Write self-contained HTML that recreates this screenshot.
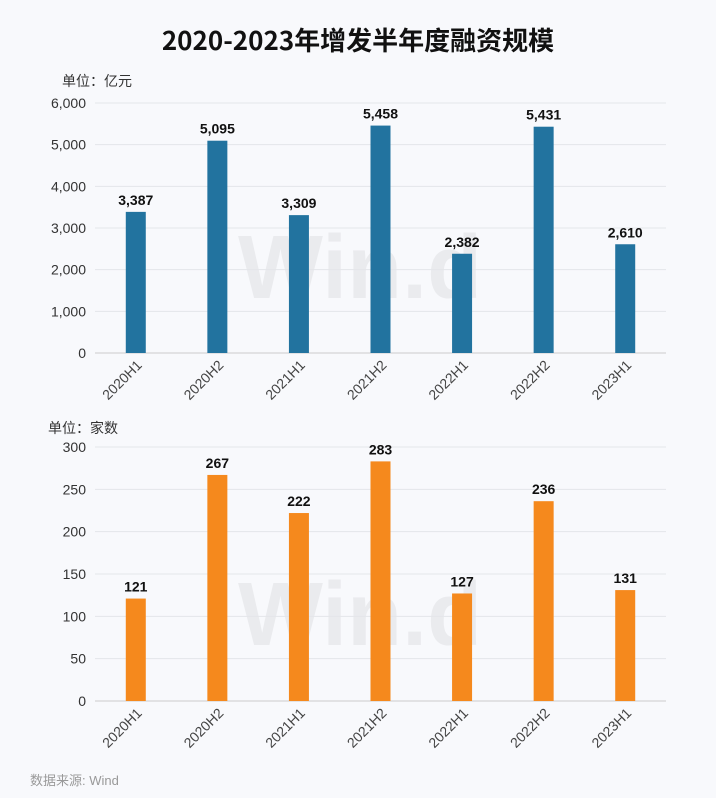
<!DOCTYPE html>
<html><head><meta charset="utf-8"><style>
body{margin:0;background:#f8f9fc;}
svg{display:block;font-family:"Liberation Sans","Noto Sans CJK SC",sans-serif;}
</style></head><body>
<svg id="c" width="716" height="798" viewBox="0 0 716 798">
<rect width="716" height="798" fill="#f8f9fc"/>
<text x="358" y="50" text-anchor="middle" font-size="26" font-weight="bold" fill="#111" style="font-family:'Noto Sans CJK SC',sans-serif">2020-2023年增发半年度融资规模</text>
<text x="62" y="86" font-size="14" fill="#333">单位：亿元</text>
<text x="48" y="433" font-size="14" fill="#333">单位：家数</text>
<text x="360" y="298" text-anchor="middle" font-size="90" font-weight="bold" fill="#000" opacity="0.05">Win.d</text>
<text x="360" y="645" text-anchor="middle" font-size="90" font-weight="bold" fill="#000" opacity="0.05">Win.d</text>
<text x="30" y="785" font-size="13" fill="#999">数据来源: Wind</text>
</svg>
<script>
const categories=["2020H1","2020H2","2021H1","2021H2","2022H1","2022H2","2023H1"];
const amountValues=[3387,5095,3309,5458,2382,5431,2610];
const countValues=[121,267,222,283,127,236,131];
const amountTicks=[0,1000,2000,3000,4000,5000,6000];
const countTicks=[0,50,100,150,200,250,300];
const svg=document.getElementById('c');
const NS='http://www.w3.org/2000/svg';
function mk(t,a){const e=document.createElementNS(NS,t);for(const k in a)e.setAttribute(k,a[k]);svg.appendChild(e);return e;}
function panel(vals,ticks,max,y0,y1,color,prefix){
  const x0=95,x1=666,band=(x1-x0)/categories.length;
  const ys=v=>y0-(v/max)*(y0-y1);
  const xs=i=>x0+band*(i+0.5);
  ticks.forEach(t=>{
    const l=mk('line',{x1:x0,x2:x1,y1:ys(t),y2:ys(t),stroke:t===0?'#ccc':'#e4e6ea','stroke-width':1});
    
    
    const tx=mk('text',{x:86,y:ys(t)+5,'text-anchor':'end','font-size':14,fill:'#333'});
    tx.textContent=t.toLocaleString('en-US');
    
    
  });
  vals.forEach((v,i)=>{
    const r=mk('rect',{x:xs(i)-10,y:ys(v),width:20,height:y0-ys(v),fill:color});
    
    
    const lb=mk('text',{x:xs(i),y:ys(v)-7,'text-anchor':'middle','font-size':14,'font-weight':'bold',fill:'#111'});
    lb.textContent=v.toLocaleString('en-US');
    
    
    const cx=xs(i)+7,cy=y0+13;
    const c=mk('text',{x:cx,y:cy,'text-anchor':'end','font-size':14,fill:'#444',transform:`rotate(-45 ${cx} ${cy})`});
    c.textContent=categories[i];
    
    
  });
}
panel(amountValues,amountTicks,6000,353,103,'#22739f','amount');
panel(countValues,countTicks,300,701,447,'#f5891d','count');
</script>
</body></html>
